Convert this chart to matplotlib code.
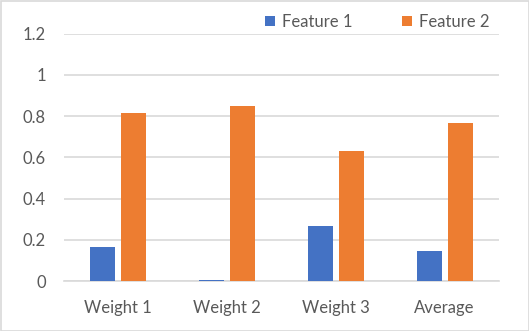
import numpy as np
import matplotlib.pyplot as plt
from matplotlib.patches import Rectangle

categories = ['Weight 1', 'Weight 2', 'Weight 3', 'Average']
feature1 = [0.165, 0.005, 0.267, 0.146]
feature2 = [0.816, 0.85, 0.63, 0.765]
yticks = [0, 0.2, 0.4, 0.6, 0.8, 1, 1.2]
ytick_labels = ['0', '0.2', '0.4', '0.6', '0.8', '1', '1.2']

plt.rcParams['font.family'] = ['Lato', 'DejaVu Sans']
text_color = '#595959'

fig = plt.figure(figsize=(5.29, 3.31), dpi=100)
fig.patches.append(Rectangle((0.5 / 529, 0.5 / 331), 1 - 1 / 529, 1 - 1 / 331,
                             transform=fig.transFigure, fill=False,
                             edgecolor='#d9d9d9', linewidth=1.2))
ax = fig.add_axes([64 / 529, 1 - 281 / 331, 435 / 529, (281 - 33.7) / 331])

x = np.arange(len(categories))
w = 0.23
gap = 0.055
ax.bar(x - (w + gap) / 2, feature1, w, color='#4472c4', label='Feature 1', zorder=3)
ax.bar(x + (w + gap) / 2, feature2, w, color='#ed7d31', label='Feature 2', zorder=3)

ax.set_xlim(-0.5, len(categories) - 0.5)
ax.set_ylim(0, 1.2)
ax.set_yticks(yticks)
ax.set_yticklabels(ytick_labels)
ax.set_xticks(x)
ax.set_xticklabels(categories)
ax.yaxis.grid(True, color='#d9d9d9', linewidth=1.2, zorder=0)
ax.tick_params(length=0, labelsize=12, colors=text_color)
ax.tick_params(axis='y', pad=13)
ax.tick_params(axis='x', pad=14)
for s in ['top', 'right', 'left']:
    ax.spines[s].set_visible(False)
ax.spines['bottom'].set_color('#d9d9d9')
ax.spines['bottom'].set_linewidth(1.2)

leg = fig.legend(loc='center', bbox_to_anchor=(377 / 529, 1 - 21.7 / 331), ncol=2,
                 frameon=False, fontsize=12, handlelength=0.6, handleheight=0.6,
                 handletextpad=0.4, columnspacing=3.0)
for t in leg.get_texts():
    t.set_color(text_color)

fig.savefig('out.png', dpi=100)
